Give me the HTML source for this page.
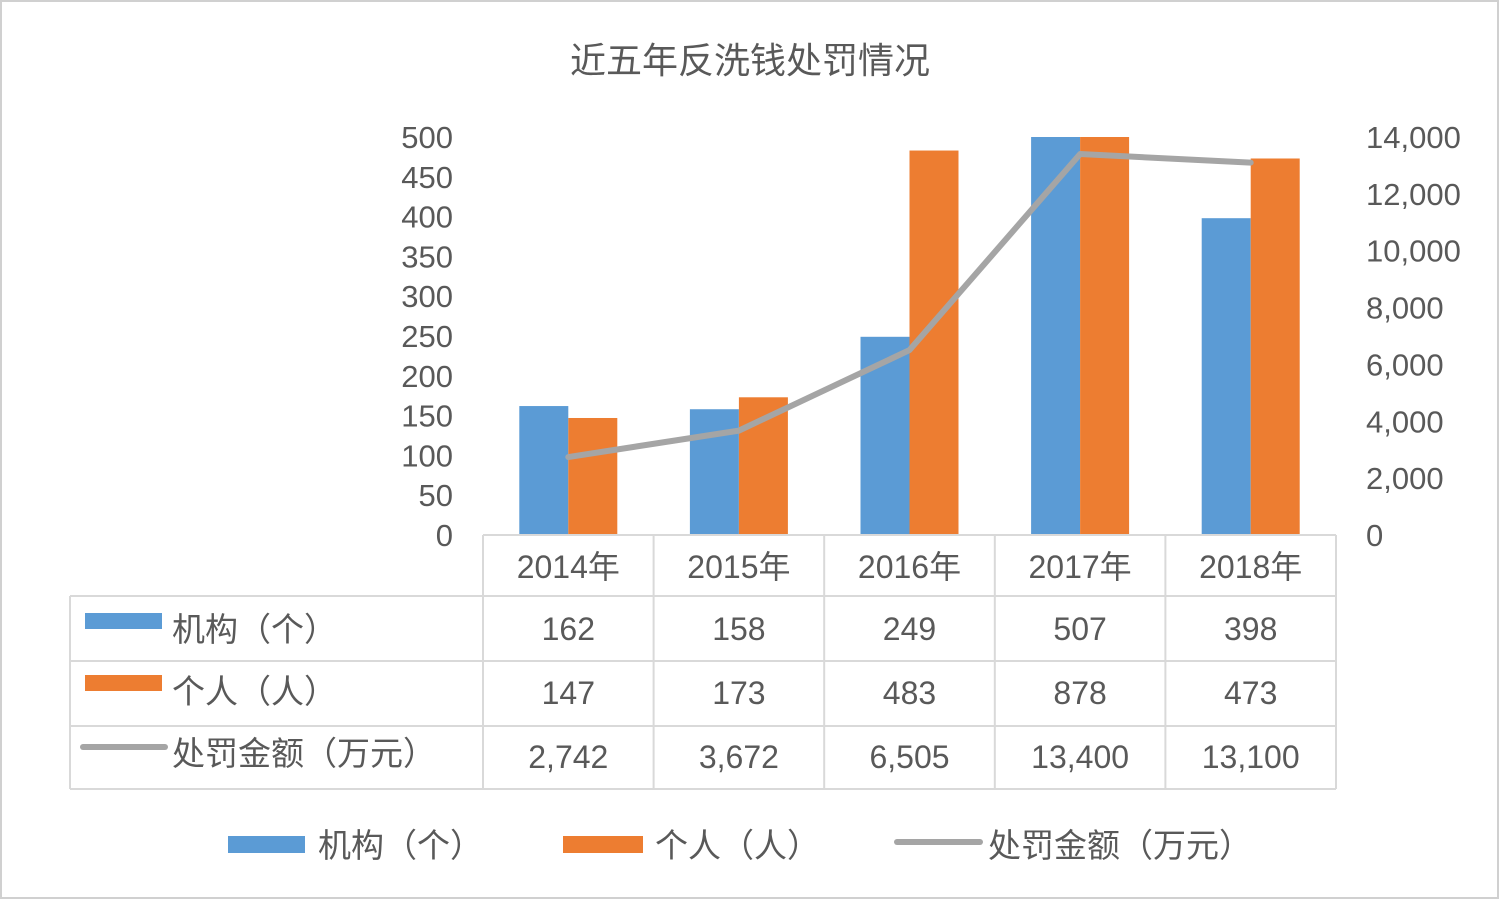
<!DOCTYPE html>
<html><head><meta charset="utf-8"><style>
html,body{margin:0;padding:0;background:#fff;}
svg{display:block;font-family:"Liberation Sans","Noto Sans CJK SC",sans-serif;}
</style></head><body>
<svg id="chart" width="1500" height="900">
<rect x="1" y="1" width="1497" height="897" fill="#fff" stroke="#d0d0d0" stroke-width="2"/>
<text x="750" y="73" text-anchor="middle" font-size="36" fill="#595959">近五年反洗钱处罚情况</text>
<defs><clipPath id="pc"><rect x="483" y="137" width="853" height="398"/></clipPath></defs>
<g id="bars" clip-path="url(#pc)"></g>
<g id="line"></g>
<g id="axes"></g>
<g id="table"></g>
<g id="legend"></g>
</svg>
<script>
const categories=["2014年","2015年","2016年","2017年","2018年"];
const institutions=[162,158,249,507,398];
const individuals=[147,173,483,878,473];
const fines=[2742,3672,6505,13400,13100];
const leftTicks=[0,50,100,150,200,250,300,350,400,450,500];
const rightTicks=[0,2000,4000,6000,8000,10000,12000,14000];
const fineLabels=["2,742","3,672","6,505","13,400","13,100"];

const NS="http://www.w3.org/2000/svg";
const X0=483,X1=1336,Y0=535,Y1=137;
const bw=(X1-X0)/categories.length;
const yL=v=>Y0-(v/500)*(Y0-Y1);
const yR=v=>Y0-(v/14000)*(Y0-Y1);
const xc=i=>X0+bw*(i+0.5);
function mk(tag,attrs,parent,text){const e=document.createElementNS(NS,tag);for(const k in attrs)e.setAttribute(k,attrs[k]);if(text!==undefined)e.textContent=text;parent.appendChild(e);return e;}
const gB=document.getElementById('bars'),gL=document.getElementById('line'),gA=document.getElementById('axes'),gT=document.getElementById('table'),gG=document.getElementById('legend');
const BW=49;
categories.forEach((c,i)=>{
  const b=mk('rect',{x:xc(i)-BW,y:yL(institutions[i]),width:BW,height:Y0-yL(institutions[i]),fill:'#5b9bd5'},gB);
  
  
  const o=mk('rect',{x:xc(i),y:yL(individuals[i]),width:BW,height:Y0-yL(individuals[i]),fill:'#ed7d31'},gB);
  
  
});
const pts=fines.map((v,i)=>xc(i)+','+yR(v)).join(' ');
const pl=mk('polyline',{points:pts,fill:'none',stroke:'#a5a5a5','stroke-width':6,'stroke-linejoin':'round','stroke-linecap':'round'},gL);


leftTicks.forEach(v=>{
  const t=mk('text',{x:453,y:yL(v)+11,'text-anchor':'end','font-size':31,fill:'#595959'},gA,String(v));
  
  
});
rightTicks.forEach(v=>{
  const t=mk('text',{x:1366,y:yR(v)+11,'font-size':31,fill:'#595959'},gA,v.toLocaleString('en-US'));
  
  
});
// table
const rows=[535,596,661,726,789];
const L=70;
const lc='#d9d9d9';
mk('line',{x1:X0,y1:rows[0],x2:X1,y2:rows[0],stroke:lc,'stroke-width':2},gT);
for(let r=1;r<rows.length;r++)mk('line',{x1:L,y1:rows[r],x2:X1,y2:rows[r],stroke:lc,'stroke-width':2},gT);
mk('line',{x1:L,y1:rows[1],x2:L,y2:rows[4],stroke:lc,'stroke-width':2},gT);
for(let i=0;i<=categories.length;i++)mk('line',{x1:X0+bw*i,y1:rows[0],x2:X0+bw*i,y2:rows[4],stroke:lc,'stroke-width':2},gT);
categories.forEach((c,i)=>{
  const t=mk('text',{x:xc(i),y:578,'text-anchor':'middle','font-size':32,fill:'#595959'},gT,c);
  
  
  const a=mk('text',{x:xc(i),y:640,'text-anchor':'middle','font-size':32,fill:'#595959'},gT,String(institutions[i]));
  
  
  const b=mk('text',{x:xc(i),y:704,'text-anchor':'middle','font-size':32,fill:'#595959'},gT,String(individuals[i]));
  
  
  const d=mk('text',{x:xc(i),y:768,'text-anchor':'middle','font-size':32,fill:'#595959'},gT,fineLabels[i]);
  
  
});
const rowDefs=[['#5b9bd5','机构（个）',628,'rect'],['#ed7d31','个人（人）',690,'rect'],['#a5a5a5','处罚金额（万元）',752,'line']];
rowDefs.forEach(([col,lab,y,kind])=>{
  if(kind==='rect')mk('rect',{x:85,y:y-15,width:77,height:16,fill:col},gT);
  else mk('line',{x1:83,y1:y-5,x2:165,y2:y-5,stroke:col,'stroke-width':6,'stroke-linecap':'round'},gT);
  const t=mk('text',{x:172,y:y+13,'font-size':33,fill:'#595959'},gT,lab);
  
  
});
// legend
const legDefs=[['#5b9bd5','机构（个）',228,305,318,'rect'],['#ed7d31','个人（人）',563,643,655,'rect'],['#a5a5a5','处罚金额（万元）',897,980,988,'line']];
legDefs.forEach(([col,lab,a,b,tx,kind])=>{
  const g=mk('g',{},gG);
  
  
  if(kind==='rect')mk('rect',{x:a,y:836,width:b-a,height:17,fill:col},g);
  else mk('line',{x1:a,y1:842,x2:b,y2:842,stroke:col,'stroke-width':6,'stroke-linecap':'round'},g);
  mk('text',{x:tx,y:857,'font-size':33,fill:'#595959'},g,lab);
});
</script>
</body></html>
